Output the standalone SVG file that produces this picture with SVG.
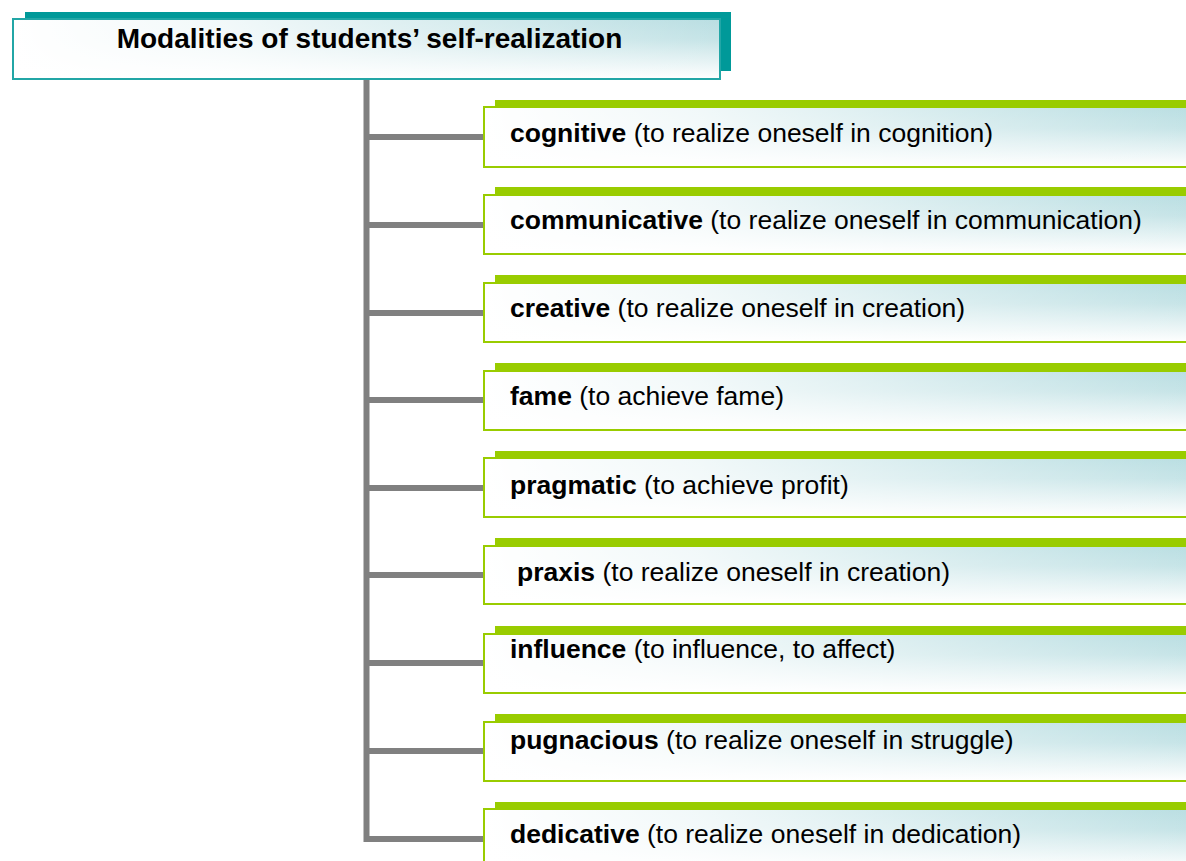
<svg xmlns="http://www.w3.org/2000/svg" width="1186" height="861" viewBox="0 0 1186 861">
<defs>
<linearGradient id="vg" x1="0" y1="0" x2="0" y2="1">
<stop offset="0" stop-color="#b9dee2"/>
<stop offset="0.35" stop-color="#c6e4e7"/>
<stop offset="1" stop-color="#ffffff"/>
</linearGradient>
<linearGradient id="hg" x1="0" y1="0" x2="1" y2="0">
<stop offset="0" stop-color="#ffffff" stop-opacity="1"/>
<stop offset="0.3" stop-color="#ffffff" stop-opacity="0.8"/>
<stop offset="1" stop-color="#ffffff" stop-opacity="0"/>
</linearGradient>
</defs>
<style>
.tshadow{fill:#009999}
.tbox{stroke:#22a6a6;stroke-width:2}
.gshadow{fill:#99cc00}
.gbox{stroke:#99cc00;stroke-width:2}
.ov{fill:url(#hg)}
.bg{fill:url(#vg)}
text{font-family:"Liberation Sans",Arial,sans-serif;fill:#000}
.title{font-size:28px;font-weight:bold}
.it{font-size:26.5px}
.b{font-weight:bold}
.conn{fill:none;stroke:#808080;stroke-width:6;stroke-linejoin:miter}
</style>
<g id="connectors">
<path class="conn" d="M366.5 79 V839 H484"/>
<path class="conn" d="M366.5 137 H484 M366.5 225 H484 M366.5 313 H484 M366.5 400 H484 M366.5 488 H484 M366.5 575 H484 M366.5 663 H484 M366.5 751 H484"/>
</g>
<g id="title">
<rect class="tshadow" x="25" y="12" width="706" height="59"/>
<rect class="bg" x="13" y="19" width="707" height="60"/>
<rect class="ov" x="13" y="19" width="707" height="60"/>
<rect class="tbox" fill="none" x="13" y="19" width="707" height="60"/>
<text class="title" x="369.5" y="48" text-anchor="middle">Modalities of students’ self-realization</text>
</g>
<g id="n1">
<rect class="gshadow" x="495" y="100" width="700" height="8"/>
<rect class="bg" x="484" y="107" width="710" height="60"/>
<rect class="ov" x="484" y="107" width="710" height="60"/>
<rect class="gbox" fill="none" x="484" y="107" width="710" height="60"/>
<text class="it" x="510" y="142"><tspan class="b">cognitive</tspan> (to realize oneself in cognition)</text>
</g>
<g id="n2">
<rect class="gshadow" x="495" y="187" width="700" height="9"/>
<rect class="bg" x="484" y="195" width="710" height="59"/>
<rect class="ov" x="484" y="195" width="710" height="59"/>
<rect class="gbox" fill="none" x="484" y="195" width="710" height="59"/>
<text class="it" x="510" y="229"><tspan class="b">communicative</tspan> (to realize oneself in communication)</text>
</g>
<g id="n3">
<rect class="gshadow" x="495" y="275" width="700" height="9"/>
<rect class="bg" x="484" y="283" width="710" height="59"/>
<rect class="ov" x="484" y="283" width="710" height="59"/>
<rect class="gbox" fill="none" x="484" y="283" width="710" height="59"/>
<text class="it" x="510" y="317"><tspan class="b">creative</tspan> (to realize oneself in creation)</text>
</g>
<g id="n4">
<rect class="gshadow" x="495" y="363" width="700" height="9"/>
<rect class="bg" x="484" y="371" width="710" height="59"/>
<rect class="ov" x="484" y="371" width="710" height="59"/>
<rect class="gbox" fill="none" x="484" y="371" width="710" height="59"/>
<text class="it" x="510" y="405"><tspan class="b">fame</tspan> (to achieve fame)</text>
</g>
<g id="n5">
<rect class="gshadow" x="495" y="451" width="700" height="8"/>
<rect class="bg" x="484" y="458" width="710" height="59"/>
<rect class="ov" x="484" y="458" width="710" height="59"/>
<rect class="gbox" fill="none" x="484" y="458" width="710" height="59"/>
<text class="it" x="510" y="494"><tspan class="b">pragmatic</tspan> (to achieve profit)</text>
</g>
<g id="n6">
<rect class="gshadow" x="495" y="538" width="700" height="9"/>
<rect class="bg" x="484" y="546" width="710" height="58"/>
<rect class="ov" x="484" y="546" width="710" height="58"/>
<rect class="gbox" fill="none" x="484" y="546" width="710" height="58"/>
<text class="it" x="517" y="581"><tspan class="b">praxis</tspan> (to realize oneself in creation)</text>
</g>
<g id="n7">
<rect class="gshadow" x="495" y="626" width="700" height="9"/>
<rect class="bg" x="484" y="634" width="710" height="59"/>
<rect class="ov" x="484" y="634" width="710" height="59"/>
<rect class="gbox" fill="none" x="484" y="634" width="710" height="59"/>
<text class="it" x="510" y="658"><tspan class="b">influence</tspan> (to influence, to affect)</text>
</g>
<g id="n8">
<rect class="gshadow" x="495" y="714" width="700" height="9"/>
<rect class="bg" x="484" y="722" width="710" height="59"/>
<rect class="ov" x="484" y="722" width="710" height="59"/>
<rect class="gbox" fill="none" x="484" y="722" width="710" height="59"/>
<text class="it" x="510" y="749"><tspan class="b">pugnacious</tspan> (to realize oneself in struggle)</text>
</g>
<g id="n9">
<rect class="gshadow" x="495" y="802" width="700" height="8"/>
<rect class="bg" x="484" y="809" width="710" height="60"/>
<rect class="ov" x="484" y="809" width="710" height="60"/>
<rect class="gbox" fill="none" x="484" y="809" width="710" height="60"/>
<text class="it" x="510" y="843"><tspan class="b">dedicative</tspan> (to realize oneself in dedication)</text>
</g>
</svg>
